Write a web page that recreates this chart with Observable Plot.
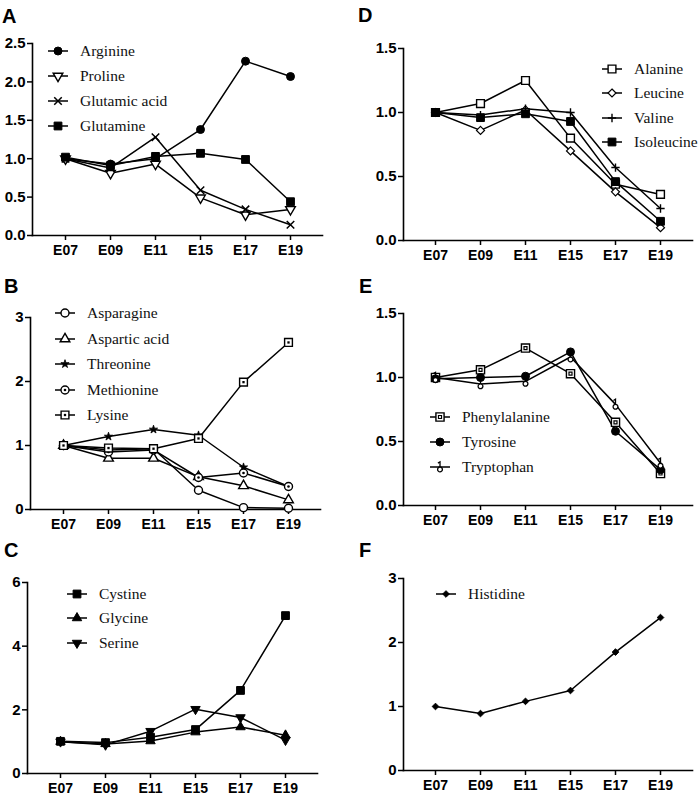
<!DOCTYPE html>
<html><head><meta charset="utf-8">
<script src="https://cdn.jsdelivr.net/npm/d3@7"></script>
<script src="https://cdn.jsdelivr.net/npm/@observablehq/plot@0.6"></script>
<style>
body{margin:0;background:#fff;}
#root{position:relative;width:699px;height:799px;overflow:hidden;background:#fff;}
.panel{position:absolute;}
.panel svg{overflow:visible;}
.letter{position:absolute;font:bold 20px "Liberation Sans",Arial,sans-serif;line-height:1;color:#000;}
.legend{position:absolute;font-family:"Liberation Serif","Times New Roman",serif;font-size:15.5px;color:#111;}
.legend .row{display:flex;align-items:center;height:25px;white-space:nowrap;}
.legend .row svg{margin-right:10px;overflow:visible;}
</style></head><body><div id="root"></div>
<script>
// ---------- data ----------
const stages = ["E07","E09","E11","E15","E17","E19"];

// Panel A
const arginine     = [1.00, 0.93, 1.00, 1.38, 2.27, 2.07];
const proline      = [1.00, 0.81, 0.93, 0.49, 0.27, 0.34];
const glutamicAcid = [1.00, 0.88, 1.28, 0.59, 0.34, 0.14];
const glutamine    = [1.02, 0.91, 1.03, 1.07, 0.99, 0.44];
const ticksA = [0, 0.5, 1.0, 1.5, 2.0, 2.5];

// Panel B
const asparagine   = [1.00, 0.93, 0.95, 0.30, 0.03, 0.02];
const asparticAcid = [1.00, 0.80, 0.80, 0.51, 0.37, 0.15];
const threonine    = [1.00, 1.14, 1.25, 1.16, 0.66, 0.36];
const methionine   = [1.00, 0.90, 0.93, 0.50, 0.57, 0.36];
const lysine       = [1.00, 0.96, 0.95, 1.11, 1.99, 2.61];
const ticksB = [0, 1, 2, 3];

// Panel C
const cystine = [1.01, 0.97, 1.14, 1.38, 2.61, 4.96];
const glycine = [1.00, 0.93, 1.02, 1.30, 1.46, 1.20];
const serine  = [1.00, 0.90, 1.33, 2.02, 1.76, 1.05];
const ticksC = [0, 2, 4, 6];

// Panel D
const alanine    = [1.00, 1.07, 1.25, 0.80, 0.44, 0.36];
const leucine    = [1.00, 0.86, 1.02, 0.70, 0.38, 0.10];
const valine     = [1.00, 0.98, 1.03, 1.00, 0.57, 0.25];
const isoleucine = [1.00, 0.96, 0.99, 0.93, 0.46, 0.15];
const ticksD = [0, 0.5, 1.0, 1.5];

// Panel E
const phenylalanine = [1.00, 1.06, 1.23, 1.03, 0.65, 0.25];
const tyrosine      = [0.99, 1.00, 1.01, 1.20, 0.58, 0.28];
const tryptophan    = [1.00, 0.95, 0.97, 1.16, 0.79, 0.33];
const ticksE = [0, 0.5, 1.0, 1.5];

// Panel F
const histidine = [1.00, 0.89, 1.08, 1.25, 1.85, 2.39];
const ticksF = [0, 1, 2, 3];

// ---------- symbols ----------
const triDown = {draw(ctx, size){
  const y = -Math.sqrt(size / (Math.sqrt(3) * 3));
  ctx.moveTo(0, -y * 2); ctx.lineTo(-Math.sqrt(3) * y, y); ctx.lineTo(Math.sqrt(3) * y, y); ctx.closePath();
}};
// small circle hanging below the point
const lowCircle = {draw(ctx, size){
  const r = Math.sqrt(size / Math.PI);
  ctx.moveTo(r, r); ctx.arc(0, r, r, 0, 2 * Math.PI);
}};
// stem rising from the point with a small hook
const stem = {draw(ctx, size){
  const r = Math.sqrt(size / Math.PI);
  ctx.moveTo(0, 0); ctx.lineTo(0, -r * 2); ctx.lineTo(-r * 0.8, -r * 1.5);
}};
const K = "#000";
const S = {
  filledCircle: [{sym: d3.symbolCircle, r: 4, fill: K, stroke: K, sw: 1}],
  openCircle:   [{sym: d3.symbolCircle, r: 4, fill: "#fff", stroke: K, sw: 1.4}],
  dotCircle:    [{sym: d3.symbolCircle, r: 4, fill: "#fff", stroke: K, sw: 1.4}, {sym: d3.symbolCircle, r: 1.3, fill: K, stroke: "none", sw: 0}],
  openTriDown:  [{sym: triDown, r: 3.6, fill: "#fff", stroke: K, sw: 1.4}],
  filledTriDown:[{sym: triDown, r: 3.5, fill: K, stroke: K, sw: 1}],
  openTri:      [{sym: d3.symbolTriangle, r: 3.6, fill: "#fff", stroke: K, sw: 1.4}],
  filledTri:    [{sym: d3.symbolTriangle, r: 3.5, fill: K, stroke: K, sw: 1}],
  times:        [{sym: d3.symbolTimes, r: 3.5, fill: "none", stroke: K, sw: 1.5}],
  plus:         [{sym: d3.symbolPlus, r: 2.8, fill: "none", stroke: K, sw: 1.4}],
  filledSquare: [{sym: d3.symbolSquare, r: 4.4, fill: K, stroke: K, sw: 1}],
  openSquare:   [{sym: d3.symbolSquare, r: 4.4, fill: "#fff", stroke: K, sw: 1.4}],
  dotSquare:    [{sym: d3.symbolSquare, r: 4.4, fill: "#fff", stroke: K, sw: 1.4}, {sym: d3.symbolSquare, r: 1.3, fill: K, stroke: "none", sw: 0}],
  boxSquare:    [{sym: d3.symbolSquare, r: 4.6, fill: "#fff", stroke: K, sw: 1.4}, {sym: d3.symbolSquare, r: 1.7, fill: "#fff", stroke: K, sw: 1.2}],
  openDiamond:  [{sym: d3.symbolDiamond2, r: 3.6, fill: "#fff", stroke: K, sw: 1.2}],
  smallDiamond: [{sym: d3.symbolDiamond2, r: 3.0, fill: K, stroke: K, sw: 1}],
  star:         [{sym: d3.symbolStar, r: 2.6, fill: K, stroke: K, sw: 0.8}],
  tailCircle:   [{sym: stem, r: 2.6, fill: "none", stroke: K, sw: 1.3}, {sym: lowCircle, r: 2.4, fill: "#fff", stroke: K, sw: 1.3}]
};

// ---------- panels ----------
const panels = [
  {letter: "A", cell: [0, 0, 349, 262], m: [43, 27, 27, 32], ticks: ticksA, fmt: ".1f",
   series: [["Arginine", arginine, S.filledCircle], ["Proline", proline, S.openTriDown], ["Glutamic acid", glutamicAcid, S.times], ["Glutamine", glutamine, S.filledSquare]],
   legend: [46, 38.5, 25], letterPos: [2, 5.5]},
  {letter: "B", cell: [0, 262, 349, 268], m: [55, 29, 21, 30], ticks: ticksB, fmt: "d",
   series: [["Asparagine", asparagine, S.openCircle], ["Aspartic acid", asparticAcid, S.openTri], ["Threonine", threonine, S.star], ["Methionine", methionine, S.dotCircle], ["Lysine", lysine, S.dotSquare]],
   legend: [53, 300.5, 25.5], letterPos: [4, 275.5]},
  {letter: "C", cell: [0, 530, 349, 269], m: [52, 32, 26, 27], ticks: ticksC, fmt: "d",
   series: [["Cystine", cystine, S.filledSquare], ["Glycine", glycine, S.filledTri], ["Serine", serine, S.filledTriDown]],
   legend: [65, 581.5, 24.5], letterPos: [4, 539.5]},
  {letter: "D", cell: [350, 0, 349, 262], m: [48, 7, 22, 53], ticks: ticksD, fmt: ".1f",
   series: [["Alanine", alanine, S.openSquare], ["Leucine", leucine, S.openDiamond], ["Valine", valine, S.plus], ["Isoleucine", isoleucine, S.filledSquare]],
   legend: [600, 56.5, 24.5], letterPos: [358, 4.5]},
  {letter: "E", cell: [350, 262, 349, 268], m: [51, 7, 25, 53], ticks: ticksE, fmt: ".1f",
   series: [["Phenylalanine", phenylalanine, S.boxSquare], ["Tyrosine", tyrosine, S.filledCircle], ["Tryptophan", tryptophan, S.tailCircle]],
   legend: [428, 404.5, 25], letterPos: [359, 275.5]},
  {letter: "F", cell: [350, 530, 349, 269], m: [48, 7, 29, 53], ticks: ticksF, fmt: "d",
   series: [["Histidine", histidine, S.smallDiamond]],
   legend: [434, 581.5, 25], letterPos: [359, 540]}
];

const root = document.getElementById("root");
const fam = "'Liberation Sans', Arial, sans-serif";

function dotMarks(rows, layers){
  return layers.map(L => Plot.dot(rows, {x: "stage", y: "value", symbol: L.sym, r: L.r, fill: L.fill, stroke: L.stroke, strokeWidth: L.sw}));
}

for (const p of panels){
  const [cx, cy, cw, ch] = p.cell;
  const [mt, mr, mb, ml] = p.m;
  const all = p.series.flatMap(([name, vals]) => stages.map((st, i) => ({stage: st, value: vals[i], name})));
  const marks = [
    Plot.axisY({ticks: p.ticks, tickFormat: d3.format(p.fmt), tickSize: 5, tickPadding: 2, strokeWidth: 1.5, label: null, fontSize: 15, fontWeight: "bold", fontFamily: fam}),
    Plot.axisX({tickSize: 5, tickPadding: 5, strokeWidth: 1.5, label: null, fontSize: 14, fontWeight: "bold", fontFamily: fam}),
    Plot.frame({anchor: "left", strokeWidth: 1.6}),
    Plot.frame({anchor: "bottom", strokeWidth: 1.6}),
    Plot.line(all, {x: "stage", y: "value", z: "name", stroke: K, strokeWidth: 1.5})
  ];
  for (const [name, vals, layers] of p.series){
    const rows = stages.map((st, i) => ({stage: st, value: vals[i], name}));
    marks.push(...dotMarks(rows, layers));
  }
  const chart = Plot.plot({
    width: cw, height: ch,
    marginTop: mt, marginRight: mr, marginBottom: mb, marginLeft: ml,
    x: {type: "point", domain: stages, padding: 0.66},
    y: {domain: [0, p.ticks[p.ticks.length - 1]]},
    style: {background: "transparent", fontFamily: fam, fontSize: "14px", fontWeight: "bold", color: "#000", overflow: "visible"},
    marks
  });
  const wrap = document.createElement("div");
  wrap.className = "panel";
  wrap.style.left = cx + "px"; wrap.style.top = cy + "px";
  wrap.appendChild(chart);
  root.appendChild(wrap);

  const lt = document.createElement("div");
  lt.className = "letter"; lt.textContent = p.letter;
  lt.style.left = p.letterPos[0] + "px"; lt.style.top = p.letterPos[1] + "px";
  root.appendChild(lt);

  const lg = document.createElement("div");
  lg.className = "legend";
  lg.style.left = p.legend[0] + "px"; lg.style.top = p.legend[1] + "px";
  for (const [name, , layers] of p.series){
    const row = document.createElement("div");
    row.className = "row";
    row.style.height = p.legend[2] + "px";
    const svg = d3.create("svg").attr("width", 24).attr("height", 16);
    svg.append("line").attr("x1", 2).attr("x2", 22).attr("y1", 8).attr("y2", 8).attr("stroke", K).attr("stroke-width", 1.5);
    for (const L of layers){
      svg.append("path").attr("transform", "translate(12,8)")
        .attr("d", d3.symbol(L.sym, L.r * L.r * Math.PI)())
        .attr("fill", L.fill).attr("stroke", L.stroke).attr("stroke-width", L.sw);
    }
    row.appendChild(svg.node());
    const t = document.createElement("span"); t.textContent = name;
    row.appendChild(t);
    lg.appendChild(row);
  }
  root.appendChild(lg);
}
</script></body></html>
